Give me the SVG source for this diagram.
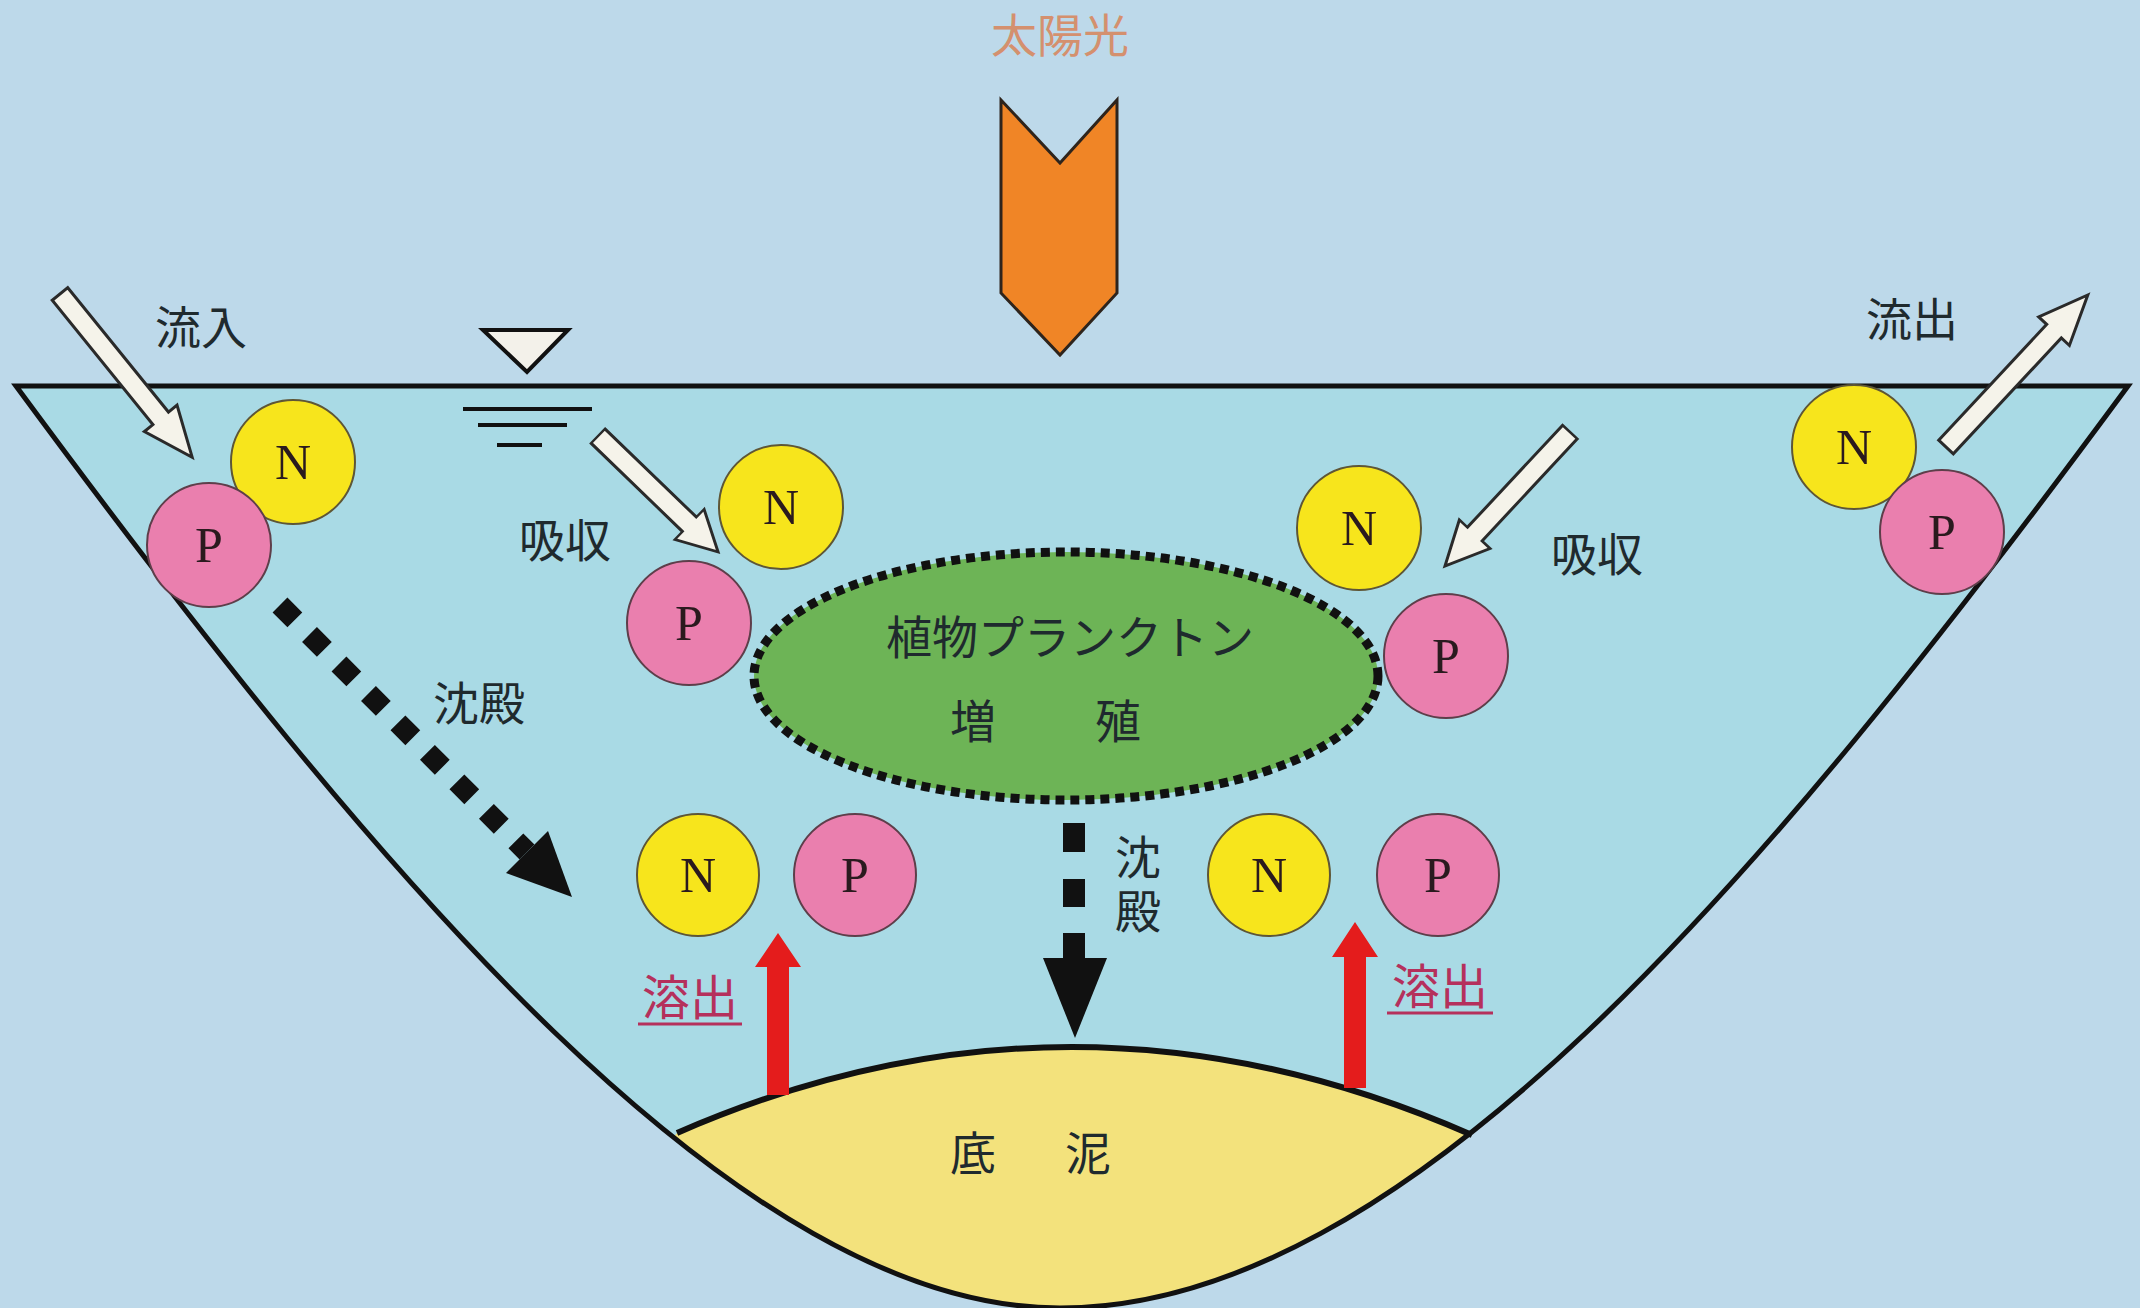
<svg xmlns="http://www.w3.org/2000/svg" width="2140" height="1308" viewBox="0 0 2140 1308">
  <style>
    .lbl { font-family: "Noto Sans CJK JP", "Noto Sans", sans-serif; font-size: 46px; fill: #1f2a2e; text-anchor: middle; }
    .elut { font-family: "Noto Sans CJK JP", "Noto Sans", sans-serif; font-size: 48px; fill: #b5305c; text-anchor: middle; }
    .sun { font-family: "Noto Sans CJK JP", "Noto Sans", sans-serif; font-size: 46px; fill: #d4906e; text-anchor: middle; }
    .n { fill: #f7e51c; stroke: #5e5636; stroke-width: 2; }
    .p { fill: #ea7fae; stroke: #5e3e4a; stroke-width: 2; }
    .ltr { font-family: "Liberation Serif", "Times New Roman", serif; font-size: 50px; fill: #2a1a1e; text-anchor: middle; }
    .warrow { fill: #f5f3ea; stroke: #2a2a2a; stroke-width: 3; stroke-linejoin: miter; }
    .red { fill: #e41c1c; }
    .blk { fill: #111; }
  </style>
  <defs>
    <path id="basinShape" d="M16,386 C380,880 740,1308 1060,1308 C1404,1308 1764,880 2128,386 Z"/>
    <clipPath id="basinClip"><use href="#basinShape"/></clipPath>
    <!-- block arrow pointing along +x, tail at origin -->
    <polygon id="wa210" points="0,-10 160,-10 160,-21 210,0 160,21 160,10 0,10"/>
  </defs>

  <!-- sky / ground background -->
  <rect x="0" y="0" width="2140" height="1308" fill="#bdd9ea"/>

  <!-- water body -->
  <use href="#basinShape" fill="#a9dae5"/>

  <!-- bottom sediment -->
  <g id="sediment">
    <path d="M677,1133 Q1073,960 1472,1135 L1700,1400 L450,1400 Z" fill="#f3e27c" clip-path="url(#basinClip)"/>
    <path d="M677,1133 Q1073,960 1472,1135" fill="none" stroke="#111" stroke-width="6"/>
    <text class="lbl" x="973" y="1170" font-size="44">底</text>
    <text class="lbl" x="1088" y="1170" font-size="44">泥</text>
  </g>

  <!-- basin outline and water surface -->
  <use href="#basinShape" fill="none" stroke="#111" stroke-width="5" stroke-linejoin="miter"/>

  <!-- water level mark -->
  <g id="level-mark" stroke="#111" stroke-width="4">
    <polygon points="483,330 568,330 527,372" fill="#f3f1ea"/>
    <line x1="463" y1="409" x2="592" y2="409"/>
    <line x1="478" y1="425" x2="567" y2="425"/>
    <line x1="497" y1="445" x2="542" y2="445"/>
  </g>

  <!-- sunlight -->
  <g id="sunlight">
    <text class="sun" x="1060" y="52">太陽光</text>
    <polygon points="1001,100 1060,163 1117,100 1117,293 1060,355 1001,293" fill="#f08526" stroke="#2e241c" stroke-width="3"/>
  </g>

  <!-- phytoplankton -->
  <g id="phytoplankton">
    <ellipse cx="1066" cy="676" rx="312" ry="124" fill="#6db456" stroke="#111" stroke-width="9" stroke-dasharray="9 6"/>
    <text class="lbl" x="1070" y="654">植物プランクトン</text>
    <text class="lbl" x="973" y="738" font-size="48">増</text>
    <text class="lbl" x="1118" y="738" font-size="48">殖</text>
  </g>

  <!-- connectors -->
  <g id="connectors">
    <!-- inflow -->
    <use href="#wa210" class="warrow" transform="translate(60,294) rotate(51)"/>
    <!-- uptake (left) -->
    <use href="#wa210" class="warrow" transform="translate(598,436) rotate(44) scale(0.795,1)"/>
    <!-- uptake (right) -->
    <use href="#wa210" class="warrow" transform="translate(1570,432) rotate(133) scale(0.873,1)"/>
    <!-- outflow -->
    <use href="#wa210" class="warrow" transform="translate(1946,447) rotate(-47) scale(0.99,1)"/>

    <!-- settling (left, diagonal) -->
    <line x1="280" y1="605" x2="527" y2="852" stroke="#111" stroke-width="21" stroke-dasharray="21 20.7"/>
    <polygon class="blk" points="548,831 572,897 506,873"/>

    <!-- settling (centre, vertical) -->
    <rect class="blk" x="1063" y="823" width="22" height="29"/>
    <rect class="blk" x="1063" y="879" width="22" height="28"/>
    <rect class="blk" x="1063" y="933" width="22" height="26"/>
    <polygon class="blk" points="1043,958 1107,958 1075,1038"/>

    <!-- release from sediment -->
    <polygon class="red" points="767,1095 767,967 755,967 778,933 801,967 789,967 789,1095"/>
    <polygon class="red" points="1344,1088 1344,957 1332,957 1355,922 1378,957 1366,957 1366,1088"/>
  </g>

  <!-- labels -->
  <g id="labels">
    <text class="lbl" x="201" y="344">流入</text>
    <text class="lbl" x="1912" y="336">流出</text>
    <text class="lbl" x="565" y="557">吸収</text>
    <text class="lbl" x="1597" y="571">吸収</text>
    <text class="lbl" x="479" y="720">沈殿</text>
    <text class="lbl" x="1138" y="888" writing-mode="vertical-rl" text-anchor="start" letter-spacing="8">沈殿</text>
    <text class="elut" x="690" y="1015">溶出</text>
    <line x1="638" y1="1024" x2="742" y2="1024" stroke="#b5305c" stroke-width="3"/>
    <text class="elut" x="1440" y="1004">溶出</text>
    <line x1="1387" y1="1013" x2="1493" y2="1013" stroke="#b5305c" stroke-width="3"/>
  </g>

  <!-- nutrients: N (nitrogen), P (phosphorus) -->
  <g id="n1"><circle class="n" cx="293" cy="462" r="62"/><text class="ltr" x="293" y="479">N</text></g>
  <g id="p1"><circle class="p" cx="209" cy="545" r="62"/><text class="ltr" x="209" y="562">P</text></g>
  <g id="n2"><circle class="n" cx="781" cy="507" r="62"/><text class="ltr" x="781" y="524">N</text></g>
  <g id="p2"><circle class="p" cx="689" cy="623" r="62"/><text class="ltr" x="689" y="640">P</text></g>
  <g id="n3"><circle class="n" cx="1359" cy="528" r="62"/><text class="ltr" x="1359" y="545">N</text></g>
  <g id="p3"><circle class="p" cx="1446" cy="656" r="62"/><text class="ltr" x="1446" y="673">P</text></g>
  <g id="n4"><circle class="n" cx="1854" cy="447" r="62"/><text class="ltr" x="1854" y="464">N</text></g>
  <g id="p4"><circle class="p" cx="1942" cy="532" r="62"/><text class="ltr" x="1942" y="549">P</text></g>
  <g id="n5"><circle class="n" cx="698" cy="875" r="61"/><text class="ltr" x="698" y="892">N</text></g>
  <g id="p5"><circle class="p" cx="855" cy="875" r="61"/><text class="ltr" x="855" y="892">P</text></g>
  <g id="n6"><circle class="n" cx="1269" cy="875" r="61"/><text class="ltr" x="1269" y="892">N</text></g>
  <g id="p6"><circle class="p" cx="1438" cy="875" r="61"/><text class="ltr" x="1438" y="892">P</text></g>
</svg>
